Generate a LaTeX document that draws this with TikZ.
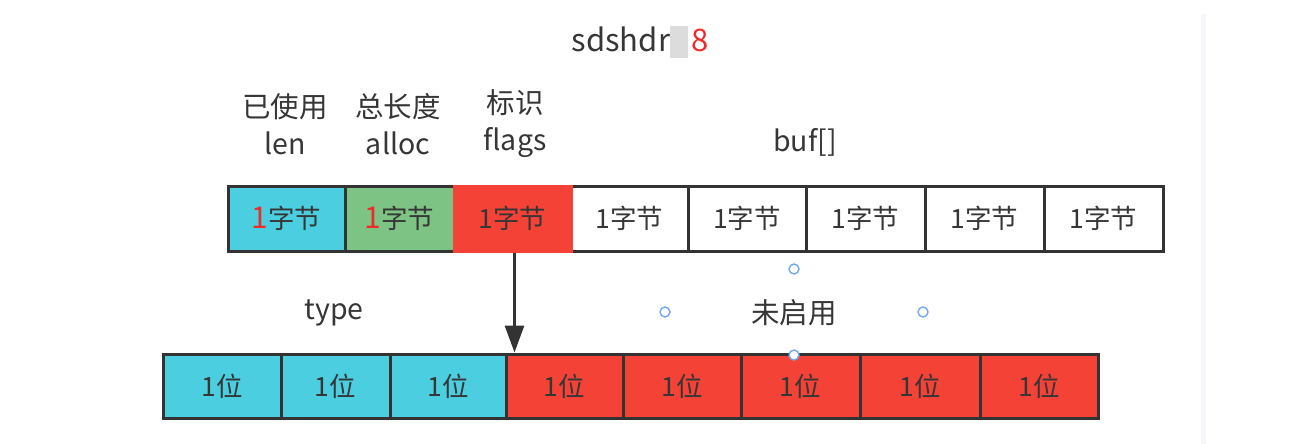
\documentclass[tikz,border=0pt]{standalone}
\usepackage{fontspec}
\setmainfont{Noto Sans CJK SC}
\usepackage{xcolor}
\usepackage{tikz}
\usetikzlibrary{arrows.meta,positioning}
\definecolor{cText}{HTML}{363636}
\definecolor{cLine}{HTML}{333333}
\definecolor{cLen}{HTML}{4BCFE0}
\definecolor{cAlloc}{HTML}{7DC383}
\definecolor{cFlag}{HTML}{F44336}
\definecolor{cMark}{HTML}{EE2B2B}
\definecolor{cHandle}{HTML}{6FAAF2}
\definecolor{cSmudge}{HTML}{DCDCDC}
\definecolor{cPanel}{HTML}{F6F7FA}
\tikzset{
  cell/.style  ={draw=cLine, line width=3pt, minimum height=65pt, inner sep=0pt,
                 font=\fontsize{26.5}{30}\selectfont, text=cText},
  bytec/.style ={cell, fill=white},
  lenc/.style  ={cell, fill=cLen},
  allocc/.style={cell, fill=cAlloc},
  flagc/.style ={cell, fill=cFlag, draw=cFlag},
  bitt/.style  ={cell, minimum height=64pt, fill=cLen},
  bitu/.style  ={cell, minimum height=64pt, fill=cFlag},
  field/.style ={align=center, font=\fontsize{28.5}{37}\selectfont, text=cText, inner sep=0pt},
  handle/.style={draw=cHandle, circle, fill=white, line width=1.4pt, minimum size=10pt, inner sep=0pt},
  arrow/.style ={-{Triangle[length=27pt,width=19pt]}, line width=3pt, draw=cLine},
}

\begin{document}
\begin{tikzpicture}[x=1pt,y=-1pt]
  \useasboundingbox (0,0) rectangle (1295,444);
  \fill[cPanel] (1201,14) rectangle (1206,444);

  % title
  \node[field, font=\fontsize{31}{37}\selectfont] (title) at (640,42)
    {sdshdr{\color{cSmudge}\rule[-6pt]{18pt}{32pt}}\kern3pt{\color{cMark}8}};

  % header fields
  \node[field] (lenlbl)   at (285,124) {已使用\\len};
  \node[field] (alloclbl) at (398,124) {总长度\\alloc};
  \node[field] (flaglbl)  at (515,124) {标识\\flags};
  \node[field] (buflbl)   at (805,142) {buf[]};

  % bytes
  \node[lenc,   minimum width=117pt] (len)   at (286.5,218.5) {{\color{cMark}\fontsize{30}{30}\selectfont 1}字节};
  \node[allocc, minimum width=109pt] (alloc) at (399.5,218.5) {{\color{cMark}\fontsize{30}{30}\selectfont 1}字节};
  \node[bytec,  minimum width=117pt] (buf1)  at (629.5,218.5) {1字节};
  \node[bytec,  minimum width=118pt] (buf2)  at (747,218.5)   {1字节};
  \node[bytec,  minimum width=119pt] (buf3)  at (865.5,218.5) {1字节};
  \node[bytec,  minimum width=119pt] (buf4)  at (984.5,218.5) {1字节};
  \node[bytec,  minimum width=119pt] (buf5)  at (1103.5,218.5) {1字节};
  \node[flagc,  minimum width=117pt] (flag)  at (512.5,218.5) {1字节};

  % bits of flags
  \node[field] (typelbl)   at (334,313) {type};
  \node[field] (unusedlbl) at (794,313) {未启用};
  \node[bitt, minimum width=118pt] (bit1) at (222,386)    {1位};
  \node[bitt, minimum width=109pt] (bit2) at (335.5,386)  {1位};
  \node[bitt, minimum width=116pt] (bit3) at (448,386)    {1位};
  \node[bitu, minimum width=117pt] (bit4) at (564.5,386)  {1位};
  \node[bitu, minimum width=118pt] (bit5) at (682,386)    {1位};
  \node[bitu, minimum width=119pt] (bit6) at (800.5,386)  {1位};
  \node[bitu, minimum width=120pt] (bit7) at (920,386)    {1位};
  \node[bitu, minimum width=118pt] (bit8) at (1039,386)   {1位};

  \coordinate (flagin) at ([xshift=2pt]flag.south |- bit4.north);
  \draw[arrow] ([xshift=2pt]flag.south) -- (flagin);

  % selection handles round the label
  \node[handle] (hn) at (794,269) {};
  \node[handle] (hw) at (665,312) {};
  \node[handle] (he) at (923,312) {};
  \node[handle] (hs) at (794,355) {};
\end{tikzpicture}
\end{document}
